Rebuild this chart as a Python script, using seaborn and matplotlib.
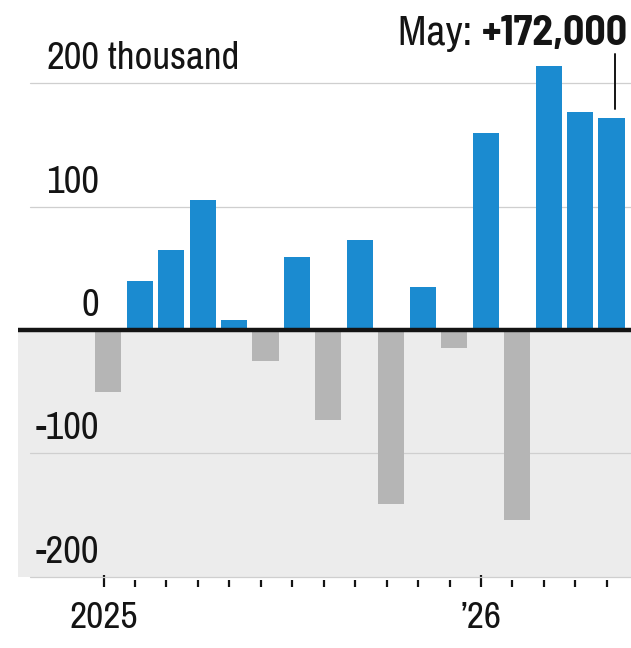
import matplotlib
matplotlib.use("Agg")
import matplotlib.pyplot as plt
import seaborn as sns
import pandas as pd
import numpy as np

# ---- data ----
months = ["Jan 25", "Feb 25", "Mar 25", "Apr 25", "May 25", "Jun 25", "Jul 25", "Aug 25",
          "Sep 25", "Oct 25", "Nov 25", "Dec 25", "Jan 26", "Feb 26", "Mar 26", "Apr 26", "May 26"]
values = [-50, 40, 65, 105, 8, -25, 59, -73, 73, -141, 35, -15, 160, -154, 214, 177, 172]
ytick_values = [200, 100, 0, -100, -200]
ytick_labels = ["200", "100", "0", "-100", "-200"]
year_tick_pos = [0, 12]
year_tick_labels = ["2025", "\u201926"]
annotation_label = "+172,000"
annotation_prefix = "May: "

sns.set_theme(style="white")
plt.rcParams["font.family"] = ["Archivo Narrow", "DejaVu Sans"]

df = pd.DataFrame({"month": months, "value": values})
df["sign"] = np.where(df["value"] >= 0, "pos", "neg")

BLUE = "#1b8bd0"
GREY = "#b5b5b5"
INK = "#141414"
FS = 28
TICK_SHIFT = -0.15

fig = plt.figure(figsize=(6.31, 6.48), dpi=100)
ax = fig.add_axes([18 / 631, 61 / 648, 613 / 631, 587 / 648])

# grey background below zero
ax.axhspan(-200, 0, color="#ececec", zorder=0, lw=0)

sns.barplot(data=df, x="month", y="value", hue="sign",
            palette={"pos": BLUE, "neg": GREY}, dodge=False, width=0.83,
            legend=False, ax=ax, zorder=2, saturation=1, linewidth=0)

n = len(months)
ax.set_ylim(-208.3, 267.4)

# gridlines
for v in ytick_values:
    if v != 0:
        ax.axhline(v, color="#cfcfcf", lw=0.9, zorder=1, xmin=12 / 613)
ax.axhline(0, color=INK, lw=3.2, zorder=5)

# y labels as texts above gridlines
x_lab = (99 - 18) / 613
trans = matplotlib.transforms.blended_transform_factory(ax.transAxes, ax.transData)
for v, lab in zip(ytick_values, ytick_labels):
    ax.annotate(lab, xy=(x_lab, v), xycoords=trans, xytext=(0, 5),
                textcoords="offset points", ha="right", va="bottom",
                fontsize=FS, color=INK)
    if v == 200:
        ax.annotate(" thousand", xy=(x_lab, v), xycoords=trans, xytext=(0, 5),
                    textcoords="offset points", ha="left", va="bottom",
                    fontsize=FS, color=INK)

ax.set_yticks([])
ax.set_ylabel("")
ax.set_xlabel("")
for s in ax.spines.values():
    s.set_visible(False)

# x ticks (month marks, year labels)
ax.set_xticks([p + TICK_SHIFT for p in year_tick_pos])
ax.set_xticklabels(year_tick_labels, fontsize=FS - 1, color=INK)
ax.set_xticks([i + TICK_SHIFT for i in range(n) if i not in year_tick_pos], minor=True)
ax.tick_params(axis="x", which="major", direction="in", length=9, width=1.6,
               color=INK, bottom=True, pad=10)
ax.tick_params(axis="x", which="minor", direction="in", length=5, width=1.6,
               color=INK, bottom=True)
ax.set_xlim(-2.87, n - 1 + 0.62)

# annotation for last month
last = n - 1
ax.plot([last + 0.12, last + 0.12], [values[last] + 7, 224], color=INK, lw=1.4,
        zorder=6, clip_on=False)
t2 = ax.text((628 - 18) / 613, 231, annotation_label, transform=trans, ha="right",
             va="baseline", fontsize=30, fontweight="bold", color=INK,
             family=["Barlow Semi Condensed", "Archivo Narrow", "DejaVu Sans"])
fig.canvas.draw()
bb = t2.get_window_extent()
x_left = ax.transAxes.inverted().transform((bb.x0, bb.y0))[0]
ax.text(x_left, 231, annotation_prefix, transform=trans, ha="right", va="baseline",
        fontsize=30, color=INK)

fig.savefig("out.png", dpi=100)
